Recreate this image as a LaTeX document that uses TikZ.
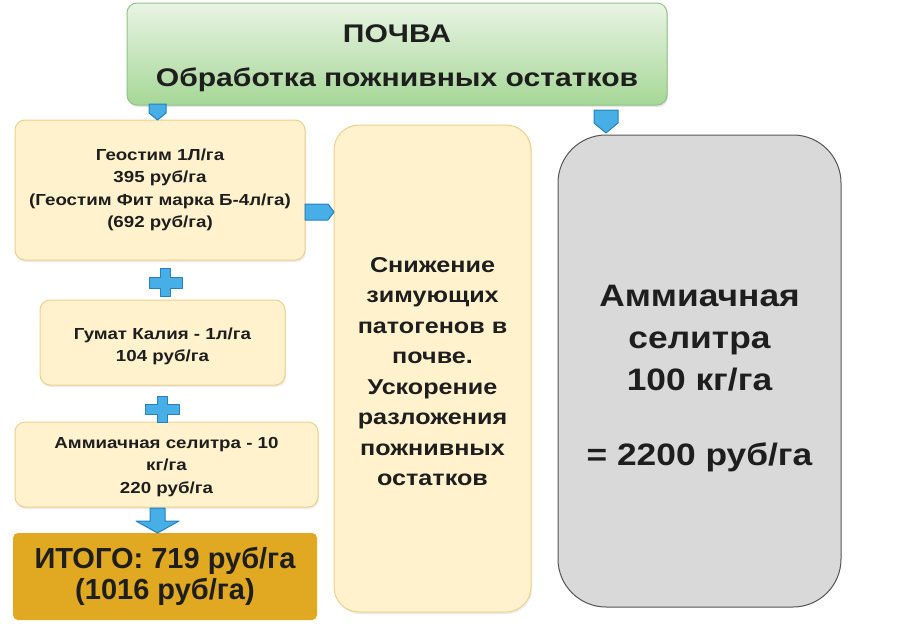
\documentclass[tikz,border=0pt]{standalone}
\usepackage{fontspec}
\setmainfont{Liberation Sans}
\newfontfamily\ftop[FakeStretch=1.18]{Liberation Sans}
\newfontfamily\fsm[FakeStretch=1.17]{Liberation Sans}
\newfontfamily\fmid[FakeStretch=1.17]{Liberation Sans}
\newfontfamily\fgray[FakeStretch=1.14]{Liberation Sans}
\usetikzlibrary{shadows}
\definecolor{gtop}{HTML}{E9F4E4}
\definecolor{gbot}{HTML}{A6D797}
\definecolor{gbord}{HTML}{8FC585}
\definecolor{yfill}{HTML}{FFF2CC}
\definecolor{ybord}{HTML}{EFCF8C}
\definecolor{gold}{HTML}{E1A821}
\definecolor{bfill}{HTML}{48AEE6}
\definecolor{bbord}{HTML}{2381C2}
\definecolor{grfill}{HTML}{D9D9D9}
\definecolor{grbord}{HTML}{555555}
\definecolor{txt}{HTML}{1E1E1E}
\tikzset{
  base/.style={align=center, text=txt, inner sep=0pt},
  greenbox/.style={draw=gbord, line width=1pt, top color=gtop, bottom color=gbot, rounded corners=10pt,
    drop shadow={opacity=0.2, shadow xshift=1pt, shadow yshift=-2pt}},
  ybox/.style={draw=ybord, line width=1pt, fill=yfill, rounded corners=10pt,
    drop shadow={opacity=0.15, shadow xshift=1pt, shadow yshift=-2pt}},
  goldbox/.style={fill=gold, rounded corners=5pt},
  graybox/.style={draw=grbord, line width=1pt, fill=grfill, rounded corners=48pt},
  bshape/.style={fill=bfill, draw=bbord, line width=1pt, line join=round}
}
\begin{document}
\begin{tikzpicture}[x=1pt,y=-1pt]
\useasboundingbox[fill=white] (0,0) rectangle (900,637);

% boxes
\node[greenbox, minimum width=540, minimum height=102] (top) at (397,54) {};
\node[ybox, minimum width=290, minimum height=140] (geo) at (160,190) {};
\node[ybox, minimum width=245, minimum height=85] (gum) at (162.5,342.5) {};
\node[ybox, minimum width=303, minimum height=85] (amm) at (166.5,464.5) {};
\node[goldbox, minimum width=304, minimum height=87] (tot) at (165,576.5) {};
\node[ybox, rounded corners=25pt, minimum width=197, minimum height=487] (mid) at (432.5,368.5) {};
\node[graybox, minimum width=283, minimum height=472] (gray) at (699.5,371) {};

% texts
\node[base, font=\fontsize{25.5}{44}\ftop\bfseries] (topt) at ([yshift=-4pt]top.center)
  {ПОЧВА\\Обработка пожнивных остатков};
\node[base, font=\fontsize{16}{22.5}\fsm\bfseries] (geot) at ([yshift=0pt]geo.center)
  {Геостим 1Л/га\\395 руб/га\\(Геостим Фит марка Б-4л/га)\\(692 руб/га)};
\node[base, font=\fontsize{16}{22.5}\fsm\bfseries] (gumt) at ([yshift=-4pt]gum.center)
  {Гумат Калия - 1л/га\\104 руб/га};
\node[base, font=\fontsize{16}{22.5}\fsm\bfseries] (ammt) at ([yshift=-2.5pt]amm.center)
  {Аммиачная селитра - 10\\кг/га\\220 руб/га};
\node[base, font=\fontsize{29}{31}\selectfont\bfseries] (tott) at ([yshift=0pt]tot.center)
  {ИТОГО: 719 руб/га\\(1016 руб/га)};
\node[base, font=\fontsize{21.5}{30.5}\fmid\bfseries] (midt) at ([yshift=-3pt]mid.center)
  {Снижение\\зимующих\\патогенов в\\почве.\\Ускорение\\разложения\\пожнивных\\остатков};
\node[base, font=\fontsize{31}{42}\fgray\bfseries] (grayt) at ([yshift=-8pt]gray.center)
  {Аммиачная\\селитра\\100 кг/га\\[33pt]= 2200 руб/га};

% pentagon pointers
\draw[bshape] (149,104) -- (166,104) -- (166,113) -- (157.5,120) -- (149,113) -- cycle;
\draw[bshape] (594,110) -- (618,110) -- (618,123) -- (606,133) -- (594,123) -- cycle;
\draw[bshape] (305,204) -- (328,204) -- (334,212) -- (328,220) -- (305,220) -- cycle;

% plus signs
\draw[bshape] (160.5,268) -- (170.5,268) -- (170.5,277) -- (182,277) -- (182,288) -- (170.5,288) -- (170.5,296)
  -- (160.5,296) -- (160.5,288) -- (149,288) -- (149,277) -- (160.5,277) -- cycle;
\draw[bshape] (157,396) -- (167,396) -- (167,404) -- (179,404) -- (179,414) -- (167,414) -- (167,422)
  -- (157,422) -- (157,414) -- (145,414) -- (145,404) -- (157,404) -- cycle;

% down arrow
\draw[bshape] (150,508) -- (165,508) -- (165,521) -- (179,521) -- (157.5,533) -- (136,521) -- (150,521) -- cycle;
\end{tikzpicture}
\end{document}
